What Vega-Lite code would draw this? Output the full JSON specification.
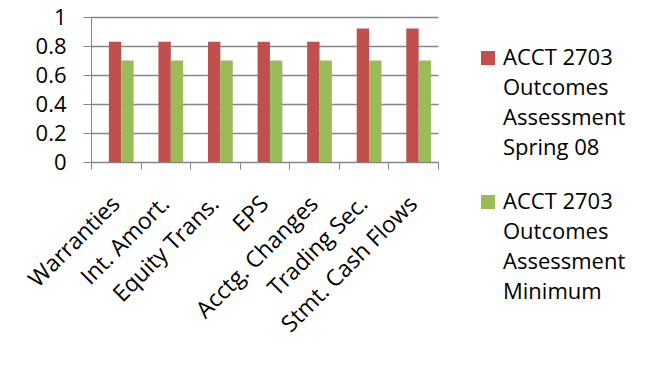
{
  "$schema": "https://vega.github.io/schema/vega-lite/v6.json",
  "width": 347,
  "height": 145,
  "autosize": {"type": "none"},
  "padding": {"left": 91, "top": 17, "right": 219, "bottom": 205},
  "background": "white",
  "data": {
    "values": [
      {"topic": "Warranties", "series": "ACCT 2703 Outcomes Assessment Spring 08", "value": 0.83},
      {"topic": "Warranties", "series": "ACCT 2703 Outcomes Assessment Minimum", "value": 0.7},
      {"topic": "Int. Amort.", "series": "ACCT 2703 Outcomes Assessment Spring 08", "value": 0.83},
      {"topic": "Int. Amort.", "series": "ACCT 2703 Outcomes Assessment Minimum", "value": 0.7},
      {"topic": "Equity Trans.", "series": "ACCT 2703 Outcomes Assessment Spring 08", "value": 0.83},
      {"topic": "Equity Trans.", "series": "ACCT 2703 Outcomes Assessment Minimum", "value": 0.7},
      {"topic": "EPS", "series": "ACCT 2703 Outcomes Assessment Spring 08", "value": 0.83},
      {"topic": "EPS", "series": "ACCT 2703 Outcomes Assessment Minimum", "value": 0.7},
      {"topic": "Acctg. Changes", "series": "ACCT 2703 Outcomes Assessment Spring 08", "value": 0.83},
      {"topic": "Acctg. Changes", "series": "ACCT 2703 Outcomes Assessment Minimum", "value": 0.7},
      {"topic": "Trading Sec.", "series": "ACCT 2703 Outcomes Assessment Spring 08", "value": 0.92},
      {"topic": "Trading Sec.", "series": "ACCT 2703 Outcomes Assessment Minimum", "value": 0.7},
      {"topic": "Stmt. Cash Flows", "series": "ACCT 2703 Outcomes Assessment Spring 08", "value": 0.92},
      {"topic": "Stmt. Cash Flows", "series": "ACCT 2703 Outcomes Assessment Minimum", "value": 0.7}
    ]
  },
  "mark": {"type": "bar"},
  "encoding": {
    "x": {
      "field": "topic",
      "type": "nominal",
      "sort": null,
      "scale": {"paddingInner": 0, "paddingOuter": 0},
      "axis": {
        "title": null,
        "labelAngle": -45,
        "labelAlign": "right",
        "labelBaseline": "middle",
        "tickBand": "extent",
        "tickSize": 7,
        "labelPadding": 31,
        "labelDx": -3,
        "domainColor": "#868686",
        "tickColor": "#868686",
        "grid": false,
        "labelFont": "Open Sans",
        "labelFontSize": 23,
        "labelColor": "#000000",
        "labelLimit": 300
      }
    },
    "xOffset": {
      "field": "series",
      "type": "nominal",
      "sort": null,
      "scale": {"paddingInner": 0, "paddingOuter": 1.25, "align": 0.72}
    },
    "y": {
      "field": "value",
      "type": "quantitative",
      "scale": {"domain": [0, 1]},
      "axis": {
        "title": null,
        "values": [0, 0.2, 0.4, 0.6, 0.8, 1],
        "format": "~g",
        "tickSize": 8,
        "labelPadding": 17,
        "domainColor": "#868686",
        "tickColor": "#868686",
        "gridColor": "#868686",
        "gridWidth": 1.3,
        "labelFont": "Open Sans",
        "labelFontSize": 22,
        "labelColor": "#000000"
      }
    },
    "color": {
      "field": "series",
      "type": "nominal",
      "sort": null,
      "scale": {"range": ["#C0504D", "#9BBB59"]},
      "legend": {
        "title": null,
        "orient": "none",
        "legendX": 386,
        "legendY": 30,
        "symbolType": "square",
        "symbolSize": 196,
        "symbolStrokeWidth": 0,
        "symbolOpacity": 1,
        "labelFont": "Open Sans",
        "labelFontSize": 22,
        "labelColor": "#000000",
        "labelBaseline": "middle",
        "labelOffset": 4,
        "labelLimit": 300,
        "rowPadding": 32,
        "labelExpr": "split(replace(replace(datum.label, ' Outcomes', '|Outcomes'), ' Assessment ', '|Assessment|'), '|')",
        "encoding": {"labels": {"lineHeight": {"value": 30}}}
      }
    }
  },
  "config": {
    "view": {"stroke": null}
  }
}
